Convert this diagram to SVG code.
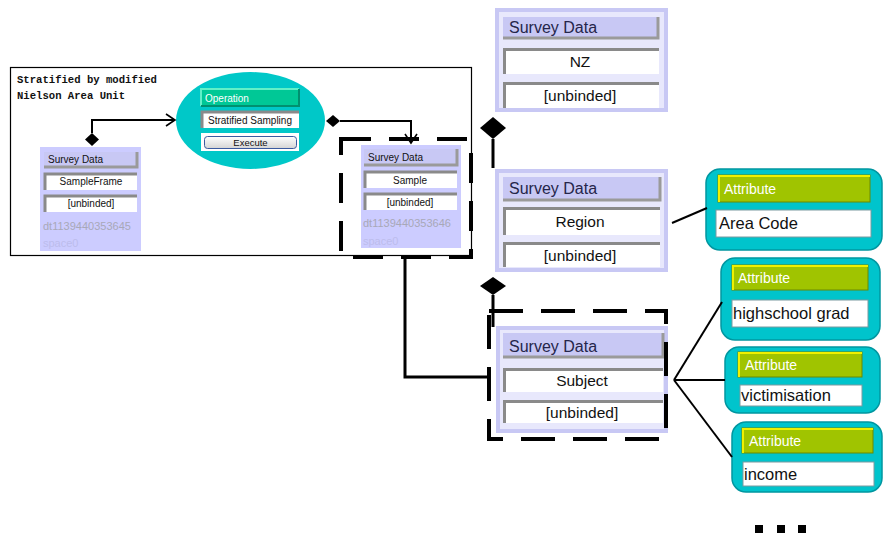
<svg xmlns="http://www.w3.org/2000/svg" width="883" height="535" viewBox="0 0 883 535">
  <style>
    .sans { font-family: "Liberation Sans", Arial, sans-serif; }
    .mono { font-family: "Liberation Mono", "DejaVu Sans Mono", monospace; font-weight: bold; font-size: 10.6px; fill: #111; }
    .node-bg { fill: #ccccff; }
    .node-big { fill: #e8e8fc; stroke: #c8c8f4; stroke-width: 4; }
    .hdr { fill: #c8c8f4; }
    .hdr-shade { fill: none; stroke: #9a9a9a; stroke-width: 3; }
    .field { fill: #ffffff; }
    .field-shade { fill: none; stroke: #8a8a8a; stroke-width: 3; }
    .attr { fill: #00c4cc; stroke: #0096a0; stroke-width: 1.5; }
    .attr-bar { fill: #a0c400; stroke: #6a8a00; stroke-width: 1; }
    .attr-hi { fill: none; stroke: #f0f000; stroke-width: 2; }
    .attr-field { fill: #ffffff; stroke: #7a9aa0; stroke-width: 1; }
    .attr-lbl { font-size: 14px; fill: #ffffff; }
    .attr-txt { font-size: 16.5px; fill: #111; }
    .big-hdr { font-size: 16px; fill: #25254a; }
    .big-txt { font-size: 15.5px; fill: #111; text-anchor: middle; }
    .sm-hdr { font-size: 10px; fill: #111; }
    .sm-txt { font-size: 10px; fill: #111; text-anchor: middle; }
    .dt { font-size: 11px; fill: #a8a8b8; }
    .space { font-size: 11px; fill: #bcbcec; }
    .wire { fill: none; stroke: #000; stroke-width: 2; }
    .thick { fill: none; stroke: #000; stroke-width: 3; }
    .dash1 { fill: none; stroke: #000; stroke-width: 4; stroke-dasharray: 30 18; }
    .dash2 { fill: none; stroke: #000; stroke-width: 4; stroke-dasharray: 34 18; }
    .dia { fill: #000; }
  </style>
  <defs>
    <marker id="open" markerWidth="12" markerHeight="14" refX="10" refY="7" orient="auto" markerUnits="userSpaceOnUse">
      <path d="M1,1 L10,7 L1,13" fill="none" stroke="#000" stroke-width="1.6"/>
    </marker>
    <linearGradient id="btn" x1="0" y1="0" x2="0" y2="1">
      <stop offset="0" stop-color="#ffffff"/>
      <stop offset="1" stop-color="#d4d4d4"/>
    </linearGradient>
  </defs>

  <rect width="883" height="535" fill="#ffffff"/>

  <!-- process frame -->
  <g id="frame">
    <rect x="10.5" y="67.5" width="461" height="188" fill="#ffffff" stroke="#000" stroke-width="1.2"/>
    <text class="mono" x="17" y="83">Stratified by modified</text>
    <text class="mono" x="17" y="99">Nielson Area Unit</text>
  </g>

  <!-- operation -->
  <g id="operation">
    <ellipse cx="250.5" cy="120.5" rx="74.5" ry="48.5" fill="#00c8c8"/>
    <rect x="201" y="89" width="98" height="17" fill="#00c896"/>
    <path d="M201,106 V89 H299" fill="none" stroke="#60f0c8" stroke-width="2"/>
    <path d="M299,89 V106 H201" fill="none" stroke="#009070" stroke-width="2"/>
    <text class="sans" x="205" y="102" font-size="10" fill="#ffffff">Operation</text>
    <rect x="201" y="111" width="98" height="17" class="field"/>
    <path d="M202,128 V112 H299" class="field-shade" stroke-width="2"/>
    <text class="sans" x="250" y="124" font-size="10" fill="#111" text-anchor="middle">Stratified Sampling</text>
    <rect x="201" y="133" width="98" height="18" fill="#ffffff"/>
    <rect x="204.5" y="136.5" width="92" height="12" rx="3" fill="url(#btn)" stroke="#3a5aa0" stroke-width="1"/>
    <text class="sans" x="250.5" y="146" font-size="9.5" fill="#111" text-anchor="middle">Execute</text>
  </g>

  <!-- sample frame -->
  <g id="sampleframe">
    <rect x="40" y="147" width="101" height="104" class="node-bg"/>
    <rect x="44" y="152" width="93" height="15" class="hdr"/>
    <path d="M137,152 V167 H44" class="hdr-shade" stroke-width="2"/>
    <text class="sans sm-hdr" x="48" y="163">Survey Data</text>
    <rect x="44" y="173" width="93" height="17" class="field"/>
    <path d="M45,190 V174 H137" class="field-shade" stroke-width="2"/>
    <text class="sans sm-txt" x="91" y="185">SampleFrame</text>
    <rect x="44" y="195" width="93" height="17" class="field"/>
    <path d="M45,212 V196 H137" class="field-shade" stroke-width="2"/>
    <text class="sans sm-txt" x="91" y="207">[unbinded]</text>
    <text class="sans dt" x="43" y="230">dt1139440353645</text>
    <text class="sans space" x="43" y="247">space0</text>
  </g>

  <!-- sample -->
  <g id="sample">
    <rect x="361" y="145" width="100" height="103" class="node-bg"/>
    <rect x="364" y="149" width="93" height="16" class="hdr"/>
    <path d="M457,149 V165 H364" class="hdr-shade" stroke-width="2"/>
    <text class="sans sm-hdr" x="368" y="161">Survey Data</text>
    <rect x="364" y="171" width="93" height="17" class="field"/>
    <path d="M365,188 V172 H457" class="field-shade" stroke-width="2"/>
    <text class="sans sm-txt" x="410" y="184">Sample</text>
    <rect x="364" y="193" width="93" height="17" class="field"/>
    <path d="M365,210 V194 H457" class="field-shade" stroke-width="2"/>
    <text class="sans sm-txt" x="410" y="206">[unbinded]</text>
    <text class="sans dt" x="363" y="227">dt1139440353646</text>
    <text class="sans space" x="363" y="245">space0</text>
  </g>

  <!-- NZ -->
  <g id="nz">
    <rect x="497" y="10" width="169" height="100" class="node-big"/>
    <rect x="503" y="17" width="155" height="21" class="hdr"/>
    <path d="M658,17 V38 H503" class="hdr-shade"/>
    <text class="sans big-hdr" x="509" y="33">Survey Data</text>
    <rect x="503" y="48" width="156" height="26" class="field"/>
    <path d="M504.5,74 V49.5 H659" class="field-shade"/>
    <text class="sans big-txt" x="580" y="67">NZ</text>
    <rect x="503" y="82" width="156" height="26" class="field"/>
    <path d="M504.5,108 V83.5 H659" class="field-shade"/>
    <text class="sans big-txt" x="580" y="101">[unbinded]</text>
  </g>

  <!-- Region -->
  <g id="region">
    <rect x="497" y="171" width="169" height="99" class="node-big"/>
    <rect x="503" y="177" width="157" height="23" class="hdr"/>
    <path d="M660,177 V200 H503" class="hdr-shade"/>
    <text class="sans big-hdr" x="509" y="194">Survey Data</text>
    <rect x="503" y="207" width="157" height="28" class="field"/>
    <path d="M504.5,235 V208.5 H660" class="field-shade"/>
    <text class="sans big-txt" x="580" y="227">Region</text>
    <rect x="503" y="242" width="157" height="25" class="field"/>
    <path d="M504.5,267 V243.5 H660" class="field-shade"/>
    <text class="sans big-txt" x="580" y="261">[unbinded]</text>
  </g>

  <!-- Subject -->
  <g id="subject">
    <rect x="498" y="328" width="168" height="103" class="node-big"/>
    <rect x="503" y="333" width="160" height="24" class="hdr"/>
    <path d="M663,333 V357 H503" class="hdr-shade"/>
    <text class="sans big-hdr" x="509" y="352">Survey Data</text>
    <rect x="503" y="368" width="160" height="24" class="field"/>
    <path d="M504.5,392 V369.5 H663" class="field-shade"/>
    <text class="sans big-txt" x="582" y="386">Subject</text>
    <rect x="503" y="400" width="160" height="23" class="field"/>
    <path d="M504.5,423 V401.5 H663" class="field-shade"/>
    <text class="sans big-txt" x="582" y="418">[unbinded]</text>
  </g>

  <!-- attributes -->
  <g id="attr-areacode">
    <rect x="706" y="169" width="176" height="81" rx="14" class="attr"/>
    <rect x="718" y="175" width="152" height="27" class="attr-bar"/>
    <path d="M719,202 V176 H870" class="attr-hi"/>
    <text class="sans attr-lbl" x="724" y="194">Attribute</text>
    <rect x="716" y="210" width="155" height="27" class="attr-field"/>
    <text class="sans attr-txt" x="719" y="229">Area Code</text>
  </g>
  <g id="attr-highschool">
    <rect x="721" y="258" width="159" height="82" rx="14" class="attr"/>
    <rect x="732" y="265" width="136" height="25" class="attr-bar"/>
    <path d="M733,290 V266 H868" class="attr-hi"/>
    <text class="sans attr-lbl" x="738" y="283">Attribute</text>
    <rect x="732" y="300" width="136" height="27" class="attr-field"/>
    <text class="sans attr-txt" x="733" y="319">highschool grad</text>
  </g>
  <g id="attr-victimisation">
    <rect x="725" y="347" width="155" height="66" rx="14" class="attr"/>
    <rect x="738" y="352" width="124" height="25" class="attr-bar"/>
    <path d="M739,377 V353 H862" class="attr-hi"/>
    <text class="sans attr-lbl" x="745" y="370">Attribute</text>
    <rect x="740" y="385" width="122" height="21" class="attr-field"/>
    <text class="sans attr-txt" x="741" y="401">victimisation</text>
  </g>
  <g id="attr-income">
    <rect x="732" y="422" width="150" height="70" rx="14" class="attr"/>
    <rect x="742" y="428" width="131" height="25" class="attr-bar"/>
    <path d="M743,453 V429 H873" class="attr-hi"/>
    <text class="sans attr-lbl" x="749" y="446">Attribute</text>
    <rect x="743" y="462" width="131" height="24" class="attr-field"/>
    <text class="sans attr-txt" x="744" y="480">income</text>
  </g>

  <!-- connectors -->
  <g id="connectors">
    <polyline class="wire" points="92,133 92,120 175,120" marker-end="url(#open)"/>
    <path class="dia" d="M92,133 L99,139.5 L92,146 L85,139.5 Z"/>
    <polyline class="wire" points="340,121 411,121 411,143" marker-end="url(#open)"/>
    <path class="dia" d="M326,121 L333,115 L340,121 L333,127 Z"/>

    <line class="thick" x1="493" y1="139" x2="493" y2="168"/>
    <path class="dia" d="M493,117 L506,128 L493,139 L480,128 Z"/>
    <line class="thick" x1="493" y1="295" x2="493" y2="327"/>
    <path class="dia" d="M493,277 L506,286 L493,295 L480,286 Z"/>

    <polyline class="thick" points="405,257 405,377 490,377"/>

    <line class="wire" x1="672" y1="223" x2="707" y2="208"/>
    <line class="wire" x1="674" y1="380" x2="722" y2="302"/>
    <line class="wire" x1="674" y1="380" x2="725" y2="380"/>
    <line class="wire" x1="674" y1="380" x2="732" y2="457"/>

    <rect class="dash1" x="341" y="139" width="130" height="118"/>
    <rect class="dash2" x="489" y="311" width="177" height="128"/>
  </g>

  <!-- continuation marks -->
  <g id="more" fill="#000">
    <rect x="755" y="525" width="8" height="8"/>
    <rect x="777" y="525" width="8" height="8"/>
    <rect x="798" y="525" width="8" height="8"/>
  </g>
</svg>
